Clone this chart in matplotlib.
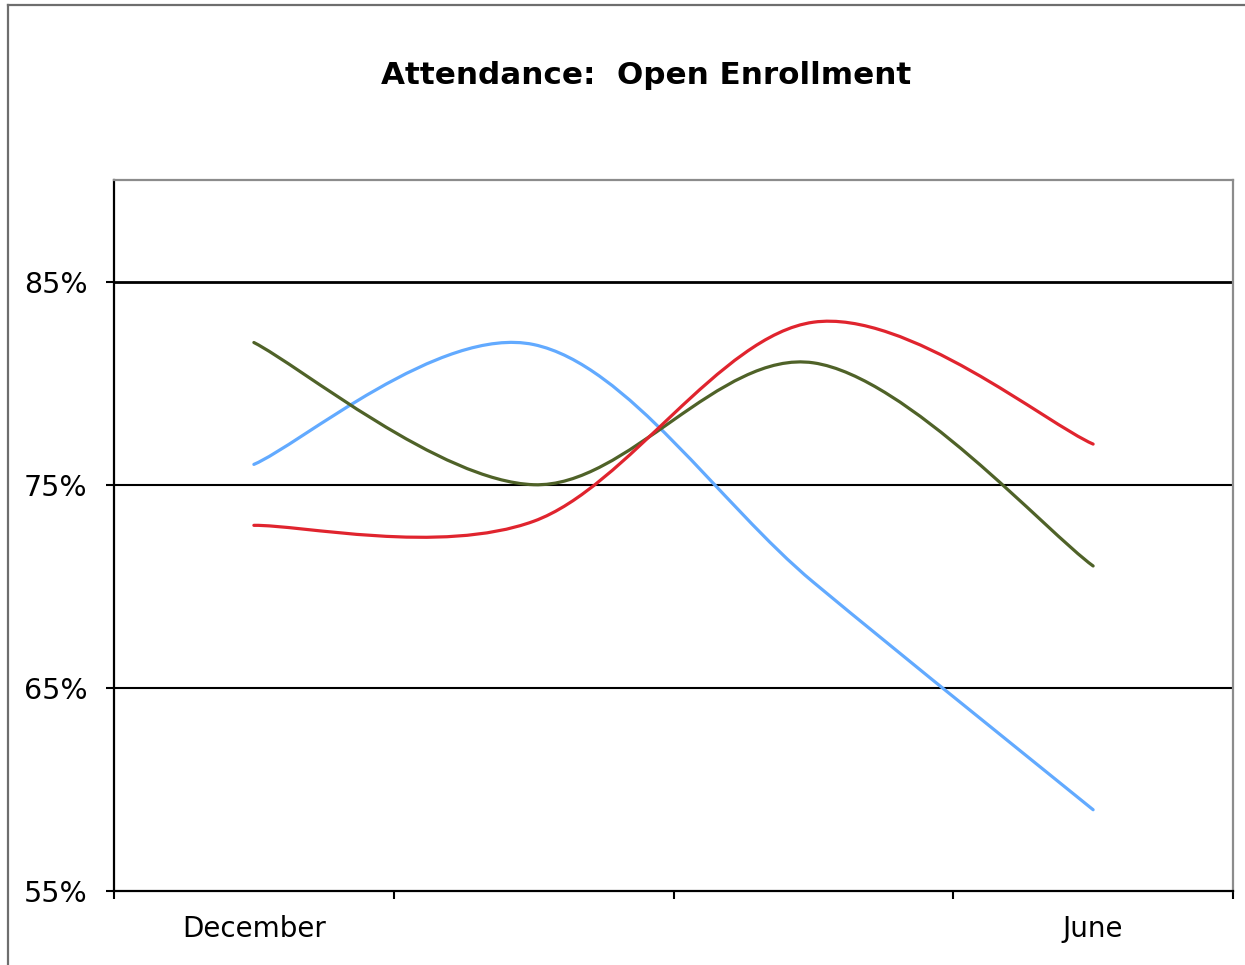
import matplotlib
matplotlib.use("Agg")
import matplotlib.pyplot as plt
from matplotlib.path import Path
from matplotlib.patches import PathPatch
from matplotlib.lines import Line2D
import numpy as np

# Chart data
months = ["December", "", "", "June"]
series_blue = [76.0, 81.9, 70.2, 59.0]
series_red = [73.0, 73.2, 83.0, 77.0]
series_green = [82.0, 75.0, 81.0, 71.0]
y_ticks = [55, 65, 75, 85]
y_tick_labels = ["55%", "65%", "75%", "85%"]
title = "Attendance:  Open Enrollment"

colors = {"blue": "#62aaff", "red": "#e0242e", "green": "#4f6228"}


def smooth_path(xs, ys):
    """Cubic Bezier through the points with Catmull-Rom style tangents."""
    pts = np.column_stack([xs, ys]).astype(float)
    n = len(pts)
    verts = [pts[0]]
    codes = [Path.MOVETO]
    for i in range(n - 1):
        p_prev = pts[i - 1] if i > 0 else pts[i]
        p0 = pts[i]
        p1 = pts[i + 1]
        p_next = pts[i + 2] if i + 2 < n else pts[i + 1]
        c1 = p0 + (p1 - p_prev) / 6.0
        c2 = p1 - (p_next - p0) / 6.0
        verts += [c1, c2, p1]
        codes += [Path.CURVE4] * 3
    return Path(verts, codes)


W, H = 1245, 965
fig = plt.figure(figsize=(W / 100, H / 100), dpi=100)
fig.patch.set_facecolor("white")

# Outer chart-area frame (top and left edges)
frame_color = "#6e6e6e"
fig.add_artist(Line2D([8 / W, 1.0], [1 - 5 / H, 1 - 5 / H], transform=fig.transFigure,
                      color=frame_color, lw=1.6))
fig.add_artist(Line2D([8 / W, 8 / W], [0.0, 1 - 5 / H], transform=fig.transFigure,
                      color=frame_color, lw=1.6))

left, right = 114 / W, 1233 / W
bottom, top = 1 - 891 / H, 1 - 180 / H
ax = fig.add_axes([left, bottom, right - left, top - bottom])

x = np.arange(len(months))
ax.set_xlim(-0.5, len(months) - 0.5)
ax.set_ylim(55, 90)

# Horizontal gridlines
for yv in y_ticks[1:]:
    ax.axhline(yv, color="black", lw=2.0 if yv == 85 else 1.5, zorder=1)

for key, vals in (("blue", series_blue), ("green", series_green), ("red", series_red)):
    patch = PathPatch(smooth_path(x, vals), facecolor="none", edgecolor=colors[key],
                      lw=2.3, capstyle="round", joinstyle="round", zorder=3)
    ax.add_patch(patch)

# Spines
for side in ("left", "bottom"):
    ax.spines[side].set_color("black")
    ax.spines[side].set_linewidth(1.6)
for side in ("top", "right"):
    ax.spines[side].set_color("#8c8c8c")
    ax.spines[side].set_linewidth(1.6)

# Y axis
ax.set_yticks(y_ticks)
ax.set_yticklabels(y_tick_labels)
ax.tick_params(axis="y", direction="out", length=6, width=1.5, pad=13,
               labelsize=20.5, colors="black")

# X axis: ticks between categories, labels at category centres
ax.set_xticks(np.arange(-0.5, len(months), 1.0))
ax.set_xticklabels([""] * (len(months) + 1))
ax.tick_params(axis="x", which="major", direction="out", length=6, width=1.5)
ax.set_xticks(x, minor=True)
ax.set_xticklabels(months, minor=True)
ax.tick_params(axis="x", which="minor", length=0, pad=17, labelsize=20)

fig.text(646 / W, 1 - 75 / H, title, ha="center", va="center",
         fontsize=22.3, fontweight="bold")

fig.savefig("out.png", dpi=100, facecolor="white")
